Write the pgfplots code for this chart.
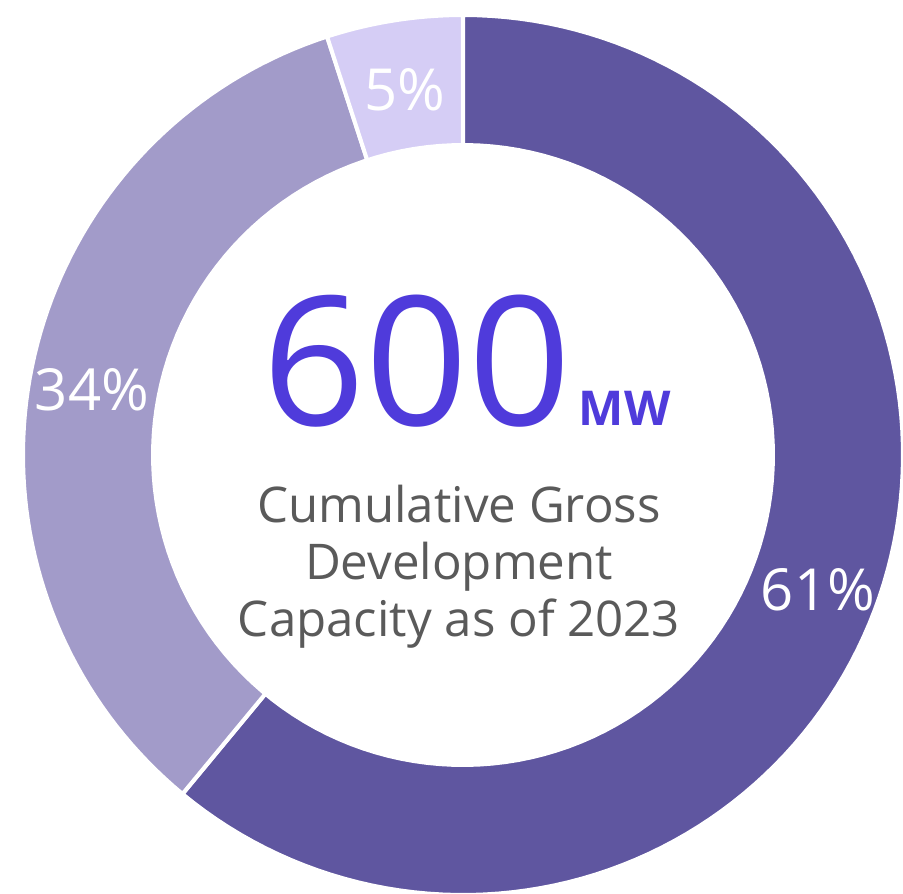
\documentclass[border=0pt]{standalone}
\usepackage{pgfplots}
\pgfplotsset{compat=1.18}
\usepackage{fontspec}
\setmainfont{Open Sans}
\definecolor{cA}{HTML}{5F56A0}
\definecolor{cB}{HTML}{A29BC9}
\definecolor{cC}{HTML}{D5CDF5}
\definecolor{cBig}{HTML}{4F3BDB}
\definecolor{cGray}{HTML}{5A5A5A}
\begin{document}
\begin{tikzpicture}
\begin{axis}[scale only axis, width=225.75pt, height=223.25pt,
  xmin=0, xmax=903, ymin=0, ymax=893, hide axis, clip=true]
% shares (percent): 61, 34, 5 ; start at 90 deg, clockwise, 3.6 deg per percent
\addplot[draw=white, line width=1pt, fill=cA, domain=-129.6:90, samples=120, variable=\t]
  ({463+440*cos(\t)},{438+440*sin(\t)}) -- (axis cs:463,438) -- cycle;
\addplot[draw=white, line width=1pt, fill=cB, domain=-252:-129.6, samples=80, variable=\t]
  ({463+440*cos(\t)},{438+440*sin(\t)}) -- (axis cs:463,438) -- cycle;
\addplot[draw=white, line width=1pt, fill=cC, domain=-270:-252, samples=20, variable=\t]
  ({463+440*cos(\t)},{438+440*sin(\t)}) -- (axis cs:463,438) -- cycle;
\addplot[draw=none, fill=white, domain=0:360, samples=150, variable=\t]
  ({463+312*cos(\t)},{438+312*sin(\t)}) -- cycle;
\node[text=white, font=\fontsize{14.5}{16}\selectfont] at (axis cs:818,303) {61\%};
\node[text=white, font=\fontsize{14.5}{16}\selectfont] at (axis cs:92,503) {34\%};
\node[text=white, font=\fontsize{14.5}{16}\selectfont] at (axis cs:405,803) {5\%};
\node[text=cBig, anchor=base, font=\fontsize{45}{50}\selectfont, inner sep=0pt] at (axis cs:417,468) {600};
\node[text=cBig, anchor=base west, font=\fontsize{12}{14}\selectfont\bfseries, inner sep=0pt] at (axis cs:578,468) {MW};
\node[text=cGray, align=center, font=\fontsize{12.3}{14.25}\selectfont, inner sep=0pt] at (axis cs:459,326) {Cumulative Gross\\Development\\Capacity as of 2023};
\end{axis}
\pgfresetboundingbox
\path (current axis.south west) rectangle (current axis.north east);
\end{tikzpicture}
\end{document}
